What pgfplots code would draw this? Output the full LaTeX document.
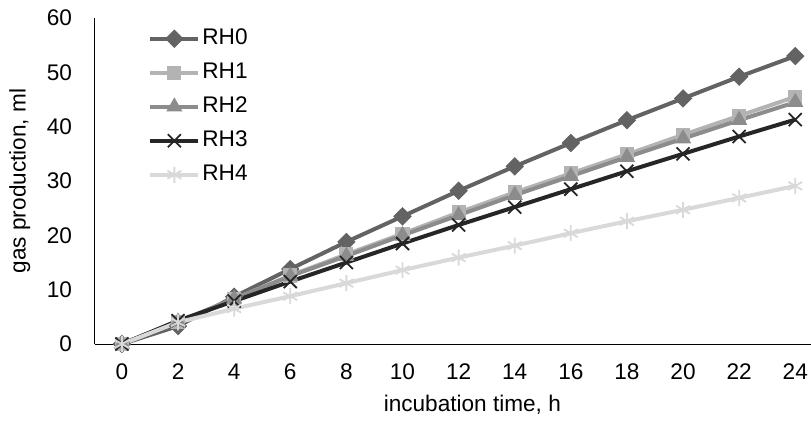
\documentclass[border=0pt]{standalone}
\usepackage{fontspec}
\setmainfont{Liberation Sans}
\usepackage{pgfplots}
\pgfplotsset{compat=1.18}
\definecolor{c0}{HTML}{636363}
\definecolor{c1}{HTML}{B3B3B3}
\definecolor{c2}{HTML}{8C8C8C}
\definecolor{c3}{HTML}{262626}
\definecolor{c4}{HTML}{D9D9D9}
\begin{document}
\begin{tikzpicture}
\path[use as bounding box] (-47.5pt,-38pt) rectangle (358pt,172pt);
\begin{axis}[
  scale only axis, width=358pt, height=163pt,
  at={(0,0)}, anchor=south west,
  xmin=-0.96, xmax=24.56, ymin=0, ymax=60,
  axis lines=left, axis line style={-, black, line width=0.5pt},
  xtick={0,2,...,24}, ytick={0,10,...,60},
  major tick length=0pt,
  /pgf/number format/assume math mode=true,
  tick label style={font=\fontsize{11.3}{13}\selectfont},
  xticklabel style={yshift=-6.5pt},
  yticklabel style={xshift=-8pt},
  xlabel={incubation time, h}, ylabel={gas production, ml},
  label style={font=\fontsize{11.3}{13}\selectfont},
  xlabel style={at={(axis description cs:0.527,-0.187)}, anchor=center},
  ylabel style={at={(axis description cs:-0.105,0.5)}, anchor=center},
  legend style={draw=none, fill=none, at={(axis description cs:0.074,0.975)}, anchor=north west,
    font=\fontsize{11.3}{13}\selectfont, row sep=4.8pt, inner sep=0pt,
    nodes={inner sep=1pt, text height=8.2pt, text depth=2pt}},
  legend cell align=left,
  legend image code/.code={\draw[mark repeat=2,mark phase=2] plot coordinates {(0pt,0pt)(12pt,0pt)(24pt,0pt)};},
  every axis plot/.append style={line width=2pt},
]
\addplot[color=c0, mark=square*, mark size=3pt, mark options={rotate=45, line width=0.5pt}] coordinates {
(0,0)(2,3.3)(4,8.7)(6,13.8)(8,18.8)(10,23.5)(12,28.2)(14,32.7)(16,37)(18,41.2)(20,45.2)(22,49.2)(24,53)};
\addlegendentry{RH0}
\addplot[color=c1, mark=square*, mark size=3.3pt, mark options={line width=0.5pt}] coordinates {
(0,0)(2,4.1)(4,8.3)(6,12.6)(8,16.5)(10,20.3)(12,24.2)(14,27.9)(16,31.4)(18,34.9)(20,38.5)(22,42)(24,45.5)};
\addlegendentry{RH1}
\addplot[color=c2, mark=triangle*, mark size=4.2pt, mark options={line width=0.5pt}] coordinates {
(0,0)(2,4.1)(4,8.3)(6,12.5)(8,16.2)(10,20)(12,23.7)(14,27.4)(16,30.9)(18,34.4)(20,37.8)(22,41.2)(24,44.5)};
\addlegendentry{RH2}
\addplot[color=c3, mark=x, mark size=4.6pt, mark options={line width=0.9pt}] coordinates {
(0,0)(2,4.3)(4,7.9)(6,11.5)(8,15)(10,18.5)(12,21.9)(14,25.2)(16,28.5)(18,31.8)(20,35)(22,38.2)(24,41.3)};
\addlegendentry{RH3}
\addplot[color=c4, mark=asterisk, mark size=4pt, mark options={line width=0.9pt}] coordinates {
(0,0)(2,4)(4,6.5)(6,8.8)(8,11.2)(10,13.6)(12,15.9)(14,18.1)(16,20.4)(18,22.6)(20,24.7)(22,26.9)(24,29.1)};
\addlegendentry{RH4}
\end{axis}
\end{tikzpicture}
\end{document}
